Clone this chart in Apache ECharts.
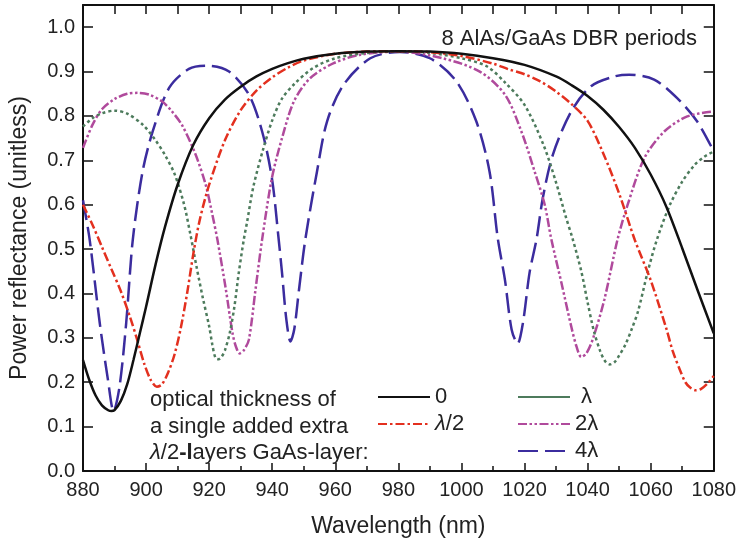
<!DOCTYPE html>
<html>
<head>
<meta charset="utf-8">
<script src="https://cdn.jsdelivr.net/npm/echarts@6/dist/echarts.min.js"></script>
<style>html,body{margin:0;padding:0;background:#fff}#chart{width:739px;height:543px}</style>
</head>
<body>
<div id="chart"></div>
<script>
// ---- data ----
const xTicks = [880, 900, 920, 940, 960, 980, 1000, 1020, 1040, 1060, 1080];
const yTicks = [0.0, 0.1, 0.2, 0.3, 0.4, 0.5, 0.6, 0.7, 0.8, 0.9, 1.0];
const seriesNames = ['0', 'λ/2', 'λ', '2λ', '4λ'];

const wl0 = [880, 882, 884, 886, 888, 889, 890, 892, 894, 896, 898, 900, 903, 906, 910, 915, 920, 925, 930, 935, 940, 945, 950, 960, 970, 980, 990, 1000, 1010, 1020, 1030, 1035, 1040, 1045, 1050, 1055, 1060, 1065, 1070, 1075, 1080];
const r0  = [0.25, 0.205, 0.17, 0.148, 0.137, 0.135, 0.137, 0.158, 0.195, 0.25, 0.31, 0.37, 0.465, 0.55, 0.645, 0.735, 0.795, 0.837, 0.866, 0.889, 0.906, 0.919, 0.929, 0.94, 0.945, 0.946, 0.945, 0.94, 0.93, 0.915, 0.889, 0.869, 0.845, 0.814, 0.775, 0.728, 0.668, 0.595, 0.502, 0.405, 0.31];

const wlHalf = [880, 883, 886, 889, 892, 895, 897, 899.5, 901.5, 903.4, 905, 907, 909, 911, 913, 915, 917, 920, 925, 930, 935, 940, 945, 950, 960, 970, 980, 990, 1000, 1010, 1015, 1020, 1025, 1030, 1035, 1040, 1045, 1050, 1055, 1060, 1065, 1067, 1069.6, 1071, 1072.5, 1074.3, 1076, 1078, 1080];
const rHalf  = [0.60, 0.555, 0.505, 0.455, 0.405, 0.345, 0.3, 0.24, 0.205, 0.19, 0.195, 0.222, 0.262, 0.322, 0.40, 0.49, 0.565, 0.645, 0.745, 0.813, 0.857, 0.887, 0.909, 0.925, 0.94, 0.945, 0.946, 0.944, 0.935, 0.918, 0.905, 0.894, 0.878, 0.855, 0.826, 0.789, 0.715, 0.625, 0.52, 0.43, 0.32, 0.27, 0.222, 0.2, 0.188, 0.182, 0.185, 0.197, 0.214];

const wl1 = [880, 883, 886, 890, 894, 899, 903, 906, 909, 912, 914, 916, 918, 920, 921, 922, 923, 924, 925, 926.5, 928, 929.4, 931, 932, 934, 937, 940, 943, 947, 953, 960, 970, 980, 990, 1000, 1008, 1014, 1020, 1026, 1030, 1033, 1035.3, 1038, 1040, 1042, 1044, 1045.5, 1047, 1048.5, 1050, 1052, 1054, 1056, 1059, 1062, 1066, 1070, 1074, 1077, 1080];
const r1  = [0.776, 0.795, 0.806, 0.812, 0.805, 0.78, 0.745, 0.712, 0.67, 0.602, 0.535, 0.46, 0.39, 0.326, 0.285, 0.255, 0.252, 0.258, 0.272, 0.31, 0.37, 0.447, 0.522, 0.56, 0.64, 0.722, 0.79, 0.838, 0.872, 0.908, 0.93, 0.942, 0.946, 0.942, 0.93, 0.912, 0.874, 0.825, 0.735, 0.65, 0.575, 0.522, 0.45, 0.38, 0.315, 0.27, 0.248, 0.24, 0.245, 0.26, 0.285, 0.32, 0.36, 0.447, 0.522, 0.598, 0.652, 0.69, 0.708, 0.72];

const wl2 = [880, 883, 886, 890, 894, 897.4, 901, 905, 908, 911.5, 915.7, 918.9, 921, 922.6, 925.3, 927.4, 928.5, 929.7, 931, 932.6, 934.7, 936.8, 939.9, 943.1, 946.9, 952, 959.5, 968, 980, 994, 1005.8, 1013.8, 1019, 1023.2, 1026.4, 1028.5, 1031.7, 1034.8, 1036.5, 1038, 1039.6, 1041.6, 1045.3, 1049.5, 1052.7, 1058, 1064.3, 1071.6, 1080];
const r2  = [0.728, 0.78, 0.815, 0.838, 0.85, 0.852, 0.848, 0.833, 0.812, 0.778, 0.713, 0.645, 0.578, 0.522, 0.409, 0.311, 0.28, 0.265, 0.272, 0.296, 0.409, 0.522, 0.66, 0.75, 0.833, 0.885, 0.919, 0.938, 0.945, 0.93, 0.9, 0.848, 0.765, 0.675, 0.60, 0.522, 0.424, 0.326, 0.28, 0.257, 0.265, 0.296, 0.386, 0.522, 0.60, 0.705, 0.765, 0.799, 0.81];

const wl4 = [880, 882.1, 885.3, 887.9, 889.7, 891.6, 893.7, 895.8, 898.9, 902.1, 907.3, 913.6, 919.4, 926.3, 932.6, 936.8, 939.9, 942, 943.1, 944.5, 945.8, 947, 948.5, 950.5, 954.2, 957.4, 962.6, 971.1, 980.5, 990, 998.4, 1004.7, 1008.9, 1011.5, 1013.8, 1015.9, 1017.8, 1019.5, 1021.6, 1023.8, 1025.8, 1029, 1034.8, 1041.1, 1048.5, 1053.2, 1061.1, 1068.4, 1074.7, 1080];
const r4  = [0.61, 0.522, 0.334, 0.206, 0.135, 0.191, 0.334, 0.522, 0.675, 0.765, 0.863, 0.906, 0.913, 0.9, 0.848, 0.765, 0.66, 0.525, 0.447, 0.34, 0.292, 0.32, 0.409, 0.522, 0.675, 0.788, 0.87, 0.93, 0.944, 0.93, 0.878, 0.788, 0.675, 0.525, 0.43, 0.319, 0.287, 0.334, 0.447, 0.522, 0.615, 0.713, 0.81, 0.867, 0.889, 0.893, 0.882, 0.84, 0.788, 0.72];

const zip = (xs, ys) => xs.map((x, i) => [x, ys[i]]);

const colors = ['#111111', '#e3301f', '#4d7b5c', '#b04a9c', '#3b2c9e'];
const dashes = ['solid', [9, 3, 2.5, 3], [3, 3], [9, 2.5, 2.5, 2.5, 2.5, 2.5], [20, 7]];
const datasets = [zip(wl0, r0), zip(wlHalf, rHalf), zip(wl1, r1), zip(wl2, r2), zip(wl4, r4)];

const FONT = 'Liberation Sans, Arial, Helvetica, sans-serif';
const TXT = '#222';

const chart = echarts.init(document.getElementById('chart'), null, {renderer: 'canvas'});

const axisCommon = {
  axisLine: {show: true, onZero: false, lineStyle: {color: '#111', width: 2}},
  splitLine: {show: false}
};
const hiddenSymbol = {color: 'rgba(0,0,0,0)', borderColor: 'rgba(0,0,0,0)', borderWidth: 0, opacity: 0};

chart.setOption({
  animation: false,
  backgroundColor: '#fff',
  textStyle: {fontFamily: FONT},
  grid: {left: 82, right: 22, top: 5, bottom: 71, containLabel: false},
  title: {
    text: '8 AlAs/GaAs DBR periods',
    right: 37, top: 23,
    textStyle: {fontFamily: FONT, fontSize: 22, fontWeight: 'normal', color: TXT}
  },
  xAxis: [
    Object.assign({
      type: 'value', min: 880, max: 1080, interval: 20, position: 'bottom',
      name: 'Wavelength (nm)', nameLocation: 'middle', nameGap: 44,
      nameTextStyle: {fontFamily: FONT, fontSize: 23, color: TXT},
      axisTick: {show: true, inside: true, length: 8, lineStyle: {color: '#111', width: 1.5}},
      minorTick: {show: true, splitNumber: 2, length: 5, lineStyle: {color: '#111', width: 1.5}},
      axisLabel: {fontFamily: FONT, fontSize: 20, color: TXT, margin: 9,
        formatter: v => xTicks.includes(v) ? String(v) : ''}
    }, axisCommon),
    Object.assign({
      type: 'value', min: 880, max: 1080, interval: 20, position: 'top',
      axisTick: {show: true, inside: true, length: 9, lineStyle: {color: '#111', width: 1.5}},
      minorTick: {show: true, splitNumber: 2, length: 9, lineStyle: {color: '#111', width: 1.5}},
      axisLabel: {show: false}
    }, axisCommon)
  ],
  yAxis: [
    Object.assign({
      type: 'value', min: 0, max: 1.05, interval: 0.1, position: 'left',
      name: 'Power reflectance (unitless)', nameLocation: 'middle', nameGap: 52,
      nameTextStyle: {fontFamily: FONT, fontSize: 23, color: TXT},
      axisTick: {show: true, inside: true, length: 10, lineStyle: {color: '#111', width: 1.5}},
      axisLabel: {fontFamily: FONT, fontSize: 20, color: TXT, margin: 8,
        formatter: v => (v > 1.01 ? '' : v.toFixed(1))}
    }, axisCommon),
    Object.assign({
      type: 'value', min: 0, max: 1.05, interval: 0.1, position: 'right',
      axisTick: {show: true, inside: true, length: 10, lineStyle: {color: '#111', width: 1.5}},
      axisLabel: {show: false}
    }, axisCommon)
  ],
  legend: [
    {
      data: [seriesNames[0], seriesNames[1]],
      orient: 'vertical', left: 372, top: 381, itemWidth: 52, itemHeight: 14, itemGap: 5,
      itemStyle: hiddenSymbol,
      textStyle: {fontFamily: FONT, fontSize: 22, color: TXT, rich: {i: {fontStyle: 'italic', fontSize: 22, fontFamily: FONT, color: TXT}}},
      formatter: n => n === 'λ/2' ? '{i|λ}/2' : n
    },
    {
      data: [{name: seriesNames[2], lineStyle: {type: 'solid'}}, seriesNames[3], seriesNames[4]],
      orient: 'vertical', left: 512, top: 381, itemWidth: 52, itemHeight: 14, itemGap: 5,
      itemStyle: hiddenSymbol,
      textStyle: {fontFamily: FONT, fontSize: 22, color: TXT},
      formatter: n => n === 'λ' ? ' λ' : n
    }
  ],
  graphic: [
    {
      type: 'text', left: 150, top: 387, silent: true,
      style: {
        text: 'optical thickness of\na single added extra\n{i|λ}/2{b|-l}ayers GaAs-layer:',
        fontFamily: FONT, fontSize: 22, lineHeight: 26.5, fill: TXT,
        rich: {
          i: {fontStyle: 'italic', fontFamily: FONT, fontSize: 22, lineHeight: 26.5, fill: TXT},
          b: {fontWeight: 'bold', fontFamily: FONT, fontSize: 22, lineHeight: 26.5, fill: TXT}
        }
      }
    }
  ],
  series: seriesNames.map((name, i) => ({
    name: name,
    type: 'line',
    xAxisIndex: 0, yAxisIndex: 0,
    data: datasets[i],
    smooth: 0.3,
    symbol: 'none',
    clip: true,
    z: 10 - i,
    lineStyle: {color: colors[i], width: 2.5, type: dashes[i]},
    itemStyle: {color: colors[i]}
  }))
});
</script>
</body>
</html>
